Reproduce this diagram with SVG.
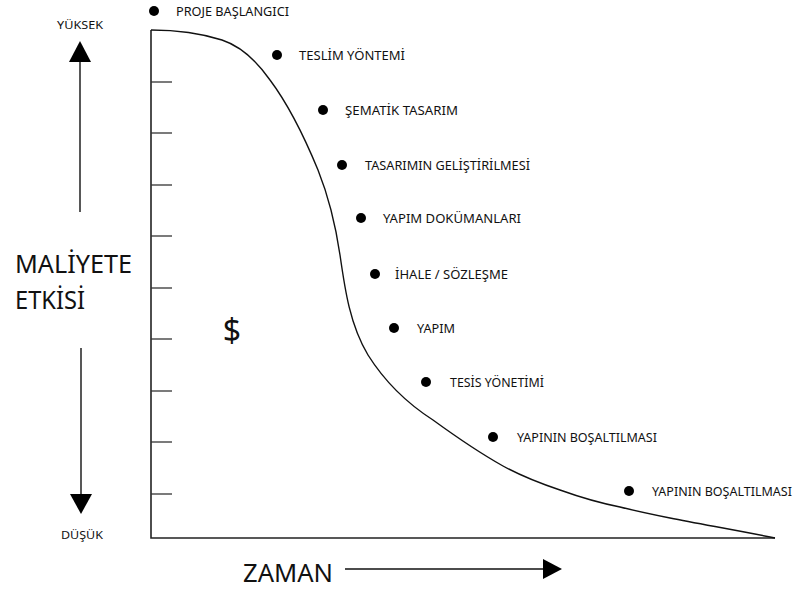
<svg xmlns="http://www.w3.org/2000/svg" width="795" height="592" viewBox="0 0 795 592">
  <style>
    .lbl { font-family: "Noto Sans", "Open Sans", "DejaVu Sans", sans-serif; font-size: 12.5px; fill: #111; }
    .axt { font-family: "Noto Sans", "Open Sans", "DejaVu Sans", sans-serif; font-size: 11.5px; fill: #111; }
    .big { font-family: "Noto Sans", "Open Sans", "DejaVu Sans", sans-serif; font-size: 26px; fill: #111; }
    .dot { fill: #000; }
    .ax { stroke: #222; stroke-width: 1.6; fill: none; }
    .tick { stroke: #333; stroke-width: 1.3; }
    .curve { stroke: #111; stroke-width: 1.4; fill: none; }
    .arr { stroke: #111; stroke-width: 1.4; fill: none; }
    .head { fill: #000; }
  </style>

  <!-- axes and tick marks -->
  <g id="axes">
    <path class="ax" d="M151,30 V538 H775"/>
    <g class="tick">
      <line x1="151" y1="82" x2="172" y2="82"/>
      <line x1="151" y1="133" x2="172" y2="133"/>
      <line x1="151" y1="185" x2="172" y2="185"/>
      <line x1="151" y1="236" x2="172" y2="236"/>
      <line x1="151" y1="288" x2="172" y2="288"/>
      <line x1="151" y1="339" x2="172" y2="339"/>
      <line x1="151" y1="391" x2="172" y2="391"/>
      <line x1="151" y1="442" x2="172" y2="442"/>
      <line x1="151" y1="494" x2="172" y2="494"/>
    </g>
  </g>

  <!-- cost-influence curve and axis arrows -->
  <g id="connectors">
    <path class="curve" d="M151,30 C175,30 200,33 222,40 C240,46 256,60 270,80 C288,104 304,136 318,170 C330,200 336,228 340,255 C345,290 350,325 368,355 C385,382 405,402 433,420 C455,436 478,452 503,466 C525,478 545,485 560,490 C585,499 600,503 620,507 C640,512 655,515 670,518 C700,524 735,530 775,538"/>
    <line class="arr" x1="80" y1="60" x2="80" y2="212"/>
    <polygon class="head" points="80,41 69,62 91,62"/>
    <line class="arr" x1="81" y1="348" x2="81" y2="496"/>
    <polygon class="head" points="81,514 70,494 92,494"/>
    <line class="arr" x1="345" y1="569" x2="546" y2="569"/>
    <polygon class="head" points="562,569 543,559 543,579"/>
  </g>

  <!-- axis captions -->
  <g id="axis-labels">
    <text class="axt" x="57" y="29" textLength="46" lengthAdjust="spacingAndGlyphs">YÜKSEK</text>
    <text class="axt" x="61" y="539" textLength="42" lengthAdjust="spacingAndGlyphs">DÜŞÜK</text>
    <text class="big" x="15" y="273" textLength="117" lengthAdjust="spacingAndGlyphs">MALİYETE</text>
    <text class="big" x="15" y="309" textLength="70" lengthAdjust="spacingAndGlyphs">ETKİSİ</text>
    <text class="big" x="243" y="582" textLength="90" lengthAdjust="spacingAndGlyphs">ZAMAN</text>
    <text class="big" x="232" y="342" text-anchor="middle" style="font-size:32px">$</text>
  </g>

  <!-- project phases -->
  <g id="phase-1">
    <circle class="dot" cx="154" cy="11" r="5"/>
    <text class="lbl" x="176" y="15.5" textLength="113" lengthAdjust="spacingAndGlyphs">PROJE BAŞLANGICI</text>
  </g>
  <g id="phase-2">
    <circle class="dot" cx="277" cy="55" r="5"/>
    <text class="lbl" x="299" y="59.5" textLength="106" lengthAdjust="spacingAndGlyphs">TESLİM YÖNTEMİ</text>
  </g>
  <g id="phase-3">
    <circle class="dot" cx="323" cy="110" r="5"/>
    <text class="lbl" x="345" y="114.5" textLength="113" lengthAdjust="spacingAndGlyphs">ŞEMATİK TASARIM</text>
  </g>
  <g id="phase-4">
    <circle class="dot" cx="342" cy="165" r="5"/>
    <text class="lbl" x="365" y="169.5" textLength="165" lengthAdjust="spacingAndGlyphs">TASARIMIN GELİŞTİRİLMESİ</text>
  </g>
  <g id="phase-5">
    <circle class="dot" cx="361" cy="218" r="5"/>
    <text class="lbl" x="383" y="222.5" textLength="138" lengthAdjust="spacingAndGlyphs">YAPIM DOKÜMANLARI</text>
  </g>
  <g id="phase-6">
    <circle class="dot" cx="375" cy="274" r="5"/>
    <text class="lbl" x="395" y="278.5" textLength="113" lengthAdjust="spacingAndGlyphs">İHALE / SÖZLEŞME</text>
  </g>
  <g id="phase-7">
    <circle class="dot" cx="394" cy="328" r="5"/>
    <text class="lbl" x="417" y="332.5" textLength="38" lengthAdjust="spacingAndGlyphs">YAPIM</text>
  </g>
  <g id="phase-8">
    <circle class="dot" cx="426" cy="382" r="5"/>
    <text class="lbl" x="450" y="386.5" textLength="94" lengthAdjust="spacingAndGlyphs">TESİS YÖNETİMİ</text>
  </g>
  <g id="phase-9">
    <circle class="dot" cx="493" cy="437" r="5"/>
    <text class="lbl" x="517" y="441.5" textLength="140" lengthAdjust="spacingAndGlyphs">YAPININ BOŞALTILMASI</text>
  </g>
  <g id="phase-10">
    <circle class="dot" cx="629" cy="491" r="5"/>
    <text class="lbl" x="652" y="495.5" textLength="140" lengthAdjust="spacingAndGlyphs">YAPININ BOŞALTILMASI</text>
  </g>
</svg>
